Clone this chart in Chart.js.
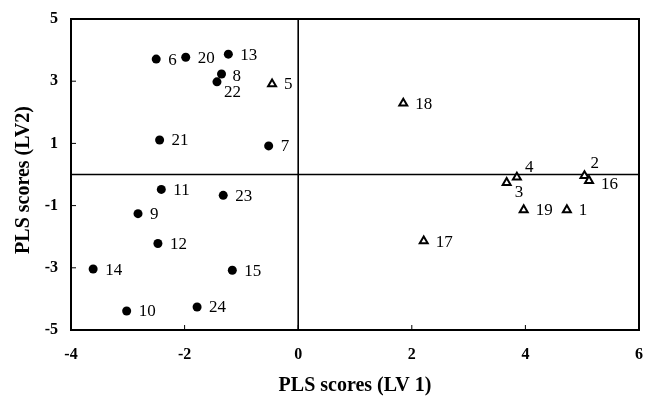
<!DOCTYPE html>
<html>
<head>
<meta charset="utf-8">
<script src="https://cdn.jsdelivr.net/npm/chart.js@4/dist/chart.umd.min.js"></script>
<style>
  html, body { margin: 0; padding: 0; background: #fff; }
  #wrap { width: 647px; height: 398px; }
</style>
</head>
<body>
<div id="wrap"><canvas id="plsChart"></canvas></div>
<script>
// samples shown as filled circles
const dotLabels = ['6', '20', '13', '8', '22', '21', '7', '11', '23', '9', '12', '14', '15', '10', '24'];
const dotX = [-2.50, -1.98, -1.23, -1.35, -1.43, -2.44, -0.52, -2.41, -1.32, -2.82, -2.47, -3.61, -1.16, -3.02, -1.78];
const dotY = [3.71, 3.77, 3.87, 3.23, 2.98, 1.11, 0.92, -0.48, -0.67, -1.26, -2.22, -3.04, -3.08, -4.39, -4.26];

// samples shown as open triangles
const triLabels = ['5', '18', '3', '4', '2', '16', '19', '1', '17'];
const triX = [-0.46, 1.85, 3.67, 3.85, 5.04, 5.12, 3.97, 4.73, 2.21];
const triY = [2.91, 2.29, -0.26, -0.09, -0.04, -0.20, -1.14, -1.14, -2.14];

// axis ticks
const xTicks = [-4, -2, 0, 2, 4, 6];
const yTicks = [-5, -3, -1, 1, 3, 5];

const serif = "'Liberation Serif', 'Times New Roman', serif";

// where a label sits relative to its point (default: right)
const labelOffset = {
  '22': [7, 11],
  '3': [8, 10],
  '4': [8, -10],
  '2': [6, -12],
  '16': [12, 4],
  '8': [11, 2]
};

function toPoints(xs, ys) {
  return xs.map((v, i) => ({ x: v, y: ys[i] }));
}

// frame, zero lines and inward ticks
const framePlugin = {
  id: 'frame',
  beforeDatasetsDraw(chart) {
    const { ctx, chartArea: a, scales: { x, y } } = chart;
    ctx.save();
    ctx.strokeStyle = '#000';
    ctx.lineWidth = 2;
    ctx.strokeRect(a.left, a.top, a.right - a.left, a.bottom - a.top);
    const x0 = x.getPixelForValue(0);
    const y0 = y.getPixelForValue(0);
    ctx.lineWidth = 1.6;
    ctx.beginPath();
    ctx.moveTo(x0, a.top); ctx.lineTo(x0, a.bottom);
    ctx.moveTo(a.left, y0); ctx.lineTo(a.right, y0);
    ctx.stroke();
    ctx.lineWidth = 1;
    ctx.beginPath();
    xTicks.forEach(v => {
      const px = x.getPixelForValue(v);
      ctx.moveTo(px, a.bottom); ctx.lineTo(px, a.bottom - 5);
    });
    yTicks.forEach(v => {
      const py = y.getPixelForValue(v);
      ctx.moveTo(a.left, py); ctx.lineTo(a.left + 5, py);
    });
    ctx.stroke();
    ctx.restore();
  },
  afterDatasetsDraw(chart) {
    const { ctx } = chart;
    ctx.save();
    ctx.fillStyle = '#000';
    ctx.font = '17px ' + serif;
    ctx.textAlign = 'left';
    ctx.textBaseline = 'middle';
    chart.data.datasets.forEach((ds, di) => {
      const meta = chart.getDatasetMeta(di);
      meta.data.forEach((pt, i) => {
        const txt = ds.pointNames[i];
        const off = labelOffset[txt] || [12, 1];
        ctx.fillText(txt, pt.x + off[0], pt.y + off[1]);
      });
    });
    // axis titles
    ctx.font = 'bold 20px ' + serif;
    ctx.textAlign = 'center';
    ctx.fillText('PLS scores (LV 1)', 355, 386);
    ctx.translate(24, 180);
    ctx.rotate(-Math.PI / 2);
    ctx.fillText('PLS scores (LV2)', 0, 0);
    ctx.restore();
  }
};

new Chart(document.getElementById('plsChart'), {
  type: 'scatter',
  data: {
    datasets: [
      {
        label: 'circles',
        data: toPoints(dotX, dotY),
        pointNames: dotLabels,
        pointStyle: 'circle',
        pointRadius: 4.5,
        backgroundColor: '#000',
        borderColor: '#000',
        borderWidth: 0
      },
      {
        label: 'triangles',
        data: toPoints(triX, triY),
        pointNames: triLabels,
        pointStyle: 'triangle',
        pointRadius: 4.6,
        backgroundColor: '#fff',
        borderColor: '#000',
        borderWidth: 2
      }
    ]
  },
  options: {
    responsive: true,
    maintainAspectRatio: false,
    animation: false,
    layout: { padding: { left: 0, top: 19, right: 8, bottom: 0 } },
    plugins: {
      legend: { display: false },
      tooltip: { enabled: false }
    },
    scales: {
      x: {
        type: 'linear',
        min: -4,
        max: 6,
        afterFit: s => { s.height = 68; s.paddingLeft = 0; s.paddingRight = 0; },
        afterBuildTicks: s => { s.ticks = xTicks.map(v => ({ value: v })); },
        grid: { display: false, drawTicks: false },
        border: { display: false },
        ticks: { padding: 15, color: '#000', font: { family: serif, size: 16, weight: 'bold' } }
      },
      y: {
        type: 'linear',
        min: -5,
        max: 5,
        afterFit: s => { s.width = 71; s.paddingTop = 0; s.paddingBottom = 0; },
        afterBuildTicks: s => { s.ticks = yTicks.map(v => ({ value: v })); },
        grid: { display: false, drawTicks: false },
        border: { display: false },
        ticks: { padding: 13, color: '#000', font: { family: serif, size: 16, weight: 'bold' } }
      }
    }
  },
  plugins: [framePlugin]
});
</script>
</body>
</html>
